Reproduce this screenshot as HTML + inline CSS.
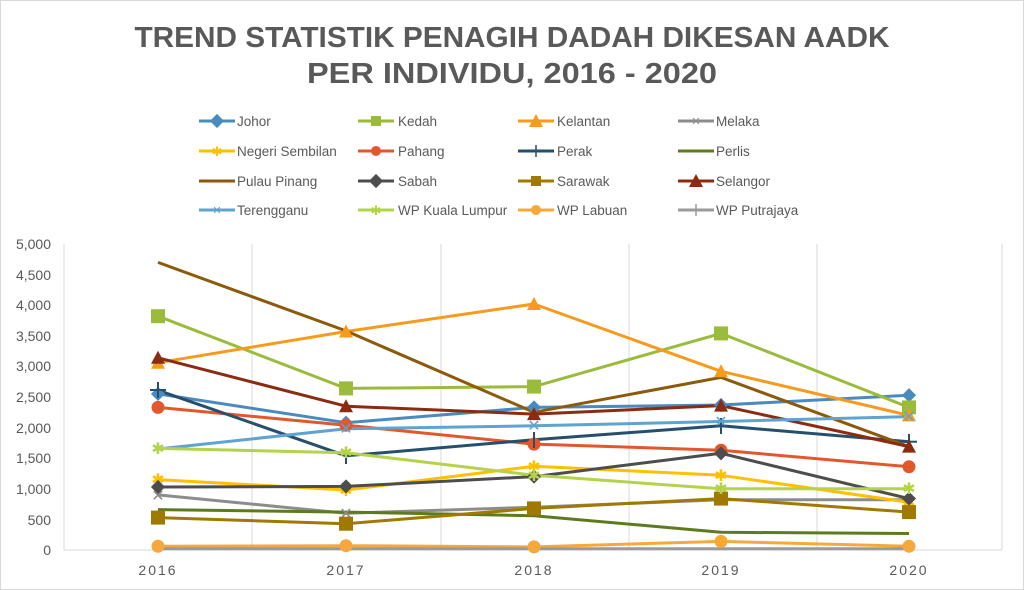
<!DOCTYPE html>
<html><head><meta charset="utf-8"><style>
html,body{margin:0;padding:0;background:#fff}
svg{display:block}
text{font-family:"Liberation Sans",sans-serif}
</style></head><body>
<svg width="1024" height="590" viewBox="0 0 1024 590" xmlns="http://www.w3.org/2000/svg">
<rect x="0.5" y="0.5" width="1023" height="589" fill="#fff" stroke="#d9d9d9"/>
<defs>
<g id="dia"><rect x="-5" y="-5" width="10" height="10" transform="rotate(45)"/></g>
<g id="sq"><rect x="-7" y="-7" width="14" height="14"/></g>
<g id="tri"><polygon points="0,-7 7,6 -7,6"/></g>
<g id="cir"><circle r="6.5"/></g>
</defs>
<text x="512" y="47" text-anchor="middle" font-size="29" font-weight="bold" fill="#595959" textLength="755" lengthAdjust="spacingAndGlyphs">TREND STATISTIK PENAGIH DADAH DIKESAN AADK</text>
<text x="512" y="83" text-anchor="middle" font-size="29" font-weight="bold" fill="#595959" textLength="410" lengthAdjust="spacingAndGlyphs">PER INDIVIDU, 2016 - 2020</text>

<!-- legend -->
<g font-size="13.5" fill="#595959" stroke-width="3">
<line x1="199" y1="121" x2="235" y2="121" stroke="#4A8BBF"/><use href="#dia" x="217" y="121" fill="#4A8BBF"/><text x="237" y="126">Johor</text>
<line x1="358" y1="121" x2="394" y2="121" stroke="#9BBB3B"/><rect x="371" y="116" width="10" height="10" fill="#9BBB3B"/><text x="398" y="126">Kedah</text>
<line x1="518" y1="121" x2="554" y2="121" stroke="#F59B1D"/><use href="#tri" x="536" y="121" fill="#F59B1D"/><text x="557" y="126">Kelantan</text>
<line x1="678" y1="121" x2="714" y2="121" stroke="#8C8C8C"/><text x="696" y="125" font-size="11" fill="#8C8C8C" text-anchor="middle">✕</text><text x="716" y="126">Melaka</text>

<line x1="199" y1="151" x2="235" y2="151" stroke="#FFC000"/><text x="217" y="156" font-size="13" fill="#FFC000" text-anchor="middle">✱</text><text x="237" y="156">Negeri Sembilan</text>
<line x1="358" y1="151" x2="394" y2="151" stroke="#E2572C"/><circle cx="376" cy="151" r="5" fill="#E2572C"/><text x="398" y="156">Pahang</text>
<line x1="518" y1="151" x2="554" y2="151" stroke="#264F6E"/><line x1="536" y1="145" x2="536" y2="157" stroke="#264F6E" stroke-width="1.5"/><text x="557" y="156">Perak</text>
<line x1="678" y1="151" x2="714" y2="151" stroke="#5E7A1E"/><text x="716" y="156">Perlis</text>

<line x1="199" y1="181" x2="235" y2="181" stroke="#8B5A0B"/><text x="237" y="186">Pulau Pinang</text>
<line x1="358" y1="181" x2="394" y2="181" stroke="#4D4D4D"/><use href="#dia" x="376" y="181" fill="#4D4D4D"/><text x="398" y="186">Sabah</text>
<line x1="518" y1="181" x2="554" y2="181" stroke="#A07A00"/><rect x="531" y="176" width="10" height="10" fill="#A07A00"/><text x="557" y="186">Sarawak</text>
<line x1="678" y1="181" x2="714" y2="181" stroke="#8B2C12"/><use href="#tri" x="696" y="181" fill="#8B2C12"/><text x="716" y="186">Selangor</text>

<line x1="199" y1="210" x2="235" y2="210" stroke="#5FA3D0"/><text x="217" y="214" font-size="11" fill="#5FA3D0" text-anchor="middle">✕</text><text x="237" y="215">Terengganu</text>
<line x1="358" y1="210" x2="394" y2="210" stroke="#B5D34A"/><text x="376" y="215" font-size="13" fill="#B5D34A" text-anchor="middle">✱</text><text x="398" y="215">WP Kuala Lumpur</text>
<line x1="518" y1="210" x2="554" y2="210" stroke="#F7A83C"/><circle cx="536" cy="210" r="5" fill="#F7A83C"/><text x="557" y="215">WP Labuan</text>
<line x1="678" y1="210" x2="714" y2="210" stroke="#9A9A9A"/><line x1="696" y1="204" x2="696" y2="216" stroke="#9A9A9A" stroke-width="1.5"/><text x="716" y="215">WP Putrajaya</text>
</g>

<!-- grid -->
<g stroke="#d9d9d9" stroke-width="1">
<line x1="252" y1="244" x2="252" y2="550"/><line x1="441" y1="244" x2="441" y2="550"/>
<line x1="629" y1="244" x2="629" y2="550"/><line x1="817" y1="244" x2="817" y2="550"/>
<line x1="1002" y1="244" x2="1002" y2="550"/>
<line x1="64" y1="244" x2="64" y2="550"/>
<line x1="64" y1="550" x2="1002" y2="550"/>
</g>
<g font-size="14" fill="#595959" text-anchor="end">
<text x="51" y="249">5,000</text><text x="51" y="280">4,500</text><text x="51" y="310">4,000</text>
<text x="51" y="341">3,500</text><text x="51" y="371">3,000</text><text x="51" y="402">2,500</text>
<text x="51" y="433">2,000</text><text x="51" y="463">1,500</text><text x="51" y="494">1,000</text>
<text x="51" y="525">500</text><text x="51" y="555">0</text>
</g>
<g font-size="14" fill="#595959" text-anchor="middle" letter-spacing="2">
<text x="158" y="575">2016</text><text x="346" y="575">2017</text><text x="534" y="575">2018</text><text x="721" y="575">2019</text><text x="909" y="575">2020</text>
</g>

<!-- series -->
<g fill="none" stroke-width="3" stroke-linejoin="round">
<polyline stroke="#4A8BBF" points="158,393.9 346,422.7 534,407.4 721,405 909,395.2"/>
<polyline stroke="#9BBB3B" points="158,316.2 346,388.4 534,386.6 721,333.4 909,407.4"/>
<polyline stroke="#F59B1D" points="158,362.7 346,331.5 534,304 721,371.3 909,415.4"/>
<polyline stroke="#8C8C8C" points="158,494.9 346,513.3 534,507.2 721,499.8 909,499.8"/>
<polyline stroke="#FFC000" points="158,479.6 346,490 534,466.2 721,475.3 909,502.3"/>
<polyline stroke="#E2572C" points="158,407.4 346,425.2 534,444.1 721,450.2 909,466.8"/>
<polyline stroke="#264F6E" points="158,390.3 346,455.8 534,439.8 721,425.8 909,441.7"/>
<polyline stroke="#5E7A1E" points="158,509.6 346,512.1 534,515.7 721,532.3 909,533.5"/>
<polyline stroke="#8B5A0B" points="158,262.4 346,330.9 534,412.3 721,377.4 909,446.6"/>
<polyline stroke="#4D4D4D" points="158,487 346,486.4 534,476.6 721,453.3 909,498.6"/>
<polyline stroke="#A07A00" points="158,517.6 346,523.7 534,508.4 721,498.6 909,512.1"/>
<polyline stroke="#8B2C12" points="158,357.8 346,406.2 534,414.1 721,405.6 909,446.6"/>
<polyline stroke="#5FA3D0" points="158,449 346,428.8 534,425.8 721,421.5 909,416.6"/>
<polyline stroke="#B5D34A" points="158,448.4 346,452.7 534,475.3 721,488.8 909,488.8"/>
<polyline stroke="#F7A83C" points="158,546.3 346,545.7 534,546.9 721,541.4 909,546.3"/>
<polyline stroke="#9A9A9A" points="158,548.8 346,548.8 534,548.8 721,548.8 909,548.8"/>
</g>
<!-- markers -->
<g fill="#4A8BBF"><use href="#dia" x="158" y="393.9"/><use href="#dia" x="346" y="422.7"/><use href="#dia" x="534" y="407.4"/><use href="#dia" x="721" y="405"/><use href="#dia" x="909" y="395.2"/></g>
<g fill="#9BBB3B"><use href="#sq" x="158" y="316.2"/><use href="#sq" x="346" y="388.4"/><use href="#sq" x="534" y="386.6"/><use href="#sq" x="721" y="333.4"/><use href="#sq" x="909" y="407.4"/></g>
<g fill="#F59B1D"><use href="#tri" x="158" y="362.7"/><use href="#tri" x="346" y="331.5"/><use href="#tri" x="534" y="304"/><use href="#tri" x="721" y="371.3"/><use href="#tri" x="909" y="415.4"/></g>
<g fill="#8C8C8C" font-size="16" text-anchor="middle"><text x="158" y="501">✕</text><text x="346" y="519">✕</text><text x="534" y="513">✕</text><text x="721" y="506">✕</text><text x="909" y="506">✕</text></g>
<g fill="#FFC000" font-size="16" text-anchor="middle"><text x="158" y="485">✱</text><text x="346" y="496">✱</text><text x="534" y="472">✱</text><text x="721" y="481">✱</text><text x="909" y="508">✱</text></g>
<g fill="#E2572C"><use href="#cir" x="158" y="407.4"/><use href="#cir" x="346" y="425.2"/><use href="#cir" x="534" y="444.1"/><use href="#cir" x="721" y="450.2"/><use href="#cir" x="909" y="466.8"/></g>
<g stroke="#264F6E" stroke-width="2"><line x1="158" y1="382" x2="158" y2="398"/><line x1="150" y1="390" x2="166" y2="390"/><line x1="346" y1="448" x2="346" y2="464"/><line x1="534" y1="432" x2="534" y2="448"/><line x1="721" y1="418" x2="721" y2="434"/><line x1="909" y1="434" x2="909" y2="450"/><line x1="901" y1="441.7" x2="917" y2="441.7"/></g>
<g fill="#4D4D4D"><use href="#dia" x="158" y="487"/><use href="#dia" x="346" y="486.4"/><use href="#dia" x="534" y="476.6"/><use href="#dia" x="721" y="453.3"/><use href="#dia" x="909" y="498.6"/></g>
<g fill="#A07A00"><use href="#sq" x="158" y="517.6"/><use href="#sq" x="346" y="523.7"/><use href="#sq" x="534" y="508.4"/><use href="#sq" x="721" y="498.6"/><use href="#sq" x="909" y="512.1"/></g>
<g fill="#8B2C12"><use href="#tri" x="158" y="357.8"/><use href="#tri" x="346" y="406.2"/><use href="#tri" x="534" y="414.1"/><use href="#tri" x="721" y="405.6"/><use href="#tri" x="909" y="446.6"/></g>
<g fill="#5FA3D0" font-size="16" text-anchor="middle"><text x="346" y="434">✕</text><text x="534" y="431">✕</text><text x="721" y="427">✕</text><text x="909" y="422">✕</text></g>
<g fill="#B5D34A" font-size="16" text-anchor="middle"><text x="158" y="454">✱</text><text x="346" y="458">✱</text><text x="534" y="481">✱</text><text x="721" y="494">✱</text><text x="909" y="494">✱</text></g>
<g fill="#F7A83C"><use href="#cir" x="158" y="546.3"/><use href="#cir" x="346" y="545.7"/><use href="#cir" x="534" y="546.9"/><use href="#cir" x="721" y="541.4"/><use href="#cir" x="909" y="546.3"/></g>
</svg>
</body></html>
